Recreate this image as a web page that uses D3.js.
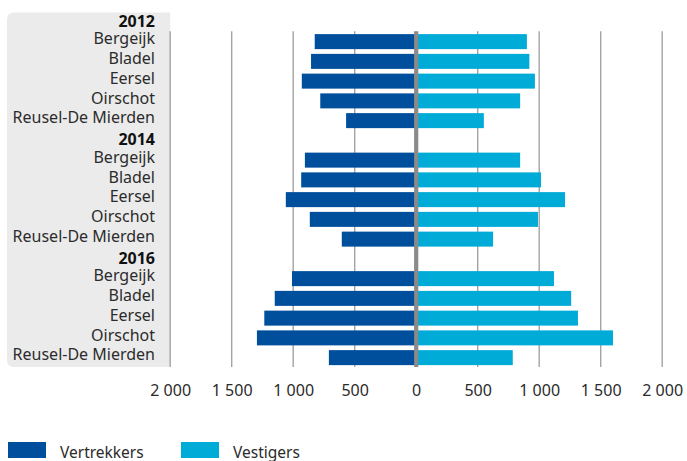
<!DOCTYPE html>
<html>
<head>
<meta charset="utf-8">
<script src="https://cdn.jsdelivr.net/npm/d3@7"></script>
<style>
  body { margin: 0; background: #fff; }
  text { font-family: "Noto Sans", sans-serif; fill: #2b2b2b; }
</style>
</head>
<body>
<svg id="chart" width="687" height="461"></svg>
<script>
// data
const years = ['2012', '2014', '2016'];
const gemeenten = ['Bergeijk', 'Bladel', 'Eersel', 'Oirschot', 'Reusel-De Mierden'];
const vertrekkers2012 = [825, 855, 930, 780, 570];
const vestigers2012 = [900, 920, 965, 845, 550];
const vertrekkers2014 = [905, 935, 1060, 865, 605];
const vestigers2014 = [845, 1015, 1210, 990, 625];
const vertrekkers2016 = [1010, 1150, 1235, 1295, 710];
const vestigers2016 = [1120, 1260, 1315, 1600, 785];
const tickValues = [-2000, -1500, -1000, -500, 0, 500, 1000, 1500, 2000];
const seriesNames = ['Vertrekkers', 'Vestigers'];

const vertrekkers = [vertrekkers2012, vertrekkers2014, vertrekkers2016];
const vestigers = [vestigers2012, vestigers2014, vestigers2016];

// rows: header per year, then the municipalities
const rows = [];
years.forEach(function(y, i) {
  rows.push({ key: y + '-h', label: y, header: true });
  gemeenten.forEach(function(g, j) {
    rows.push({ key: y + '-' + g, label: g, header: false, out: vertrekkers[i][j], inn: vestigers[i][j] });
  });
});

const colors = ['#004f9d', '#00abd8'];
const svg = d3.select('#chart');

const x = d3.scaleLinear().domain([-2000, 2000]).range([170.2, 662.2]);
const y = d3.scaleBand().domain(rows.map(d => d.key)).range([12, 367.5]).paddingInner(0.24).paddingOuter(0.12);

// grey label panel with rounded left corners
const px0 = 7, px1 = x(-2000), py0 = 12.5, py1 = 367, r = 7;
svg.append('path')
  .attr('d', 'M' + px1 + ',' + py0 + 'H' + (px0 + r) + 'Q' + px0 + ',' + py0 + ' ' + px0 + ',' + (py0 + r) +
    'V' + (py1 - r) + 'Q' + px0 + ',' + py1 + ' ' + (px0 + r) + ',' + py1 + 'H' + px1 + 'Z')
  .attr('fill', '#ebebeb');

const gridTop = y.step() + 12 - 0.5;
const gridBottom = 367;

// gridlines
svg.append('g').selectAll('line')
  .data(tickValues.filter(d => d !== 0))
  .enter().append('line')
  .attr('x1', d => x(d)).attr('x2', d => x(d))
  .attr('y1', gridTop).attr('y2', gridBottom)
  .attr('stroke', '#a3a3a3').attr('stroke-width', 1.4);

// bars
const dataRows = rows.filter(d => !d.header);
svg.append('g').selectAll('rect')
  .data(dataRows)
  .enter().append('rect')
  .attr('x', d => x(-d.out))
  .attr('width', d => x(0) - x(-d.out))
  .attr('y', d => y(d.key))
  .attr('height', y.bandwidth())
  .attr('fill', colors[0]);

svg.append('g').selectAll('rect')
  .data(dataRows)
  .enter().append('rect')
  .attr('x', x(0))
  .attr('width', d => x(d.inn) - x(0))
  .attr('y', d => y(d.key))
  .attr('height', y.bandwidth())
  .attr('fill', colors[1]);

// zero line
svg.append('line')
  .attr('x1', x(0)).attr('x2', x(0))
  .attr('y1', gridTop).attr('y2', gridBottom)
  .attr('stroke', '#8a8a8a').attr('stroke-width', 4.2);

// row labels
svg.append('g').selectAll('text')
  .data(rows)
  .enter().append('text')
  .attr('x', 155)
  .attr('y', d => y(d.key) + y.bandwidth() / 2 + (d.header ? 4.8 : 2.8))
  .attr('text-anchor', 'end')
  .style('font-size', '16px')
  .style('font-weight', d => d.header ? 700 : 400)
  .style('fill', d => d.header ? '#111' : '#2b2b2b')
  .text(d => d.label);

// x axis labels
const fmt = v => d3.format(',')(Math.abs(v)).replace(',', ' ');
const xAxis = d3.axisBottom(x).tickValues(tickValues).tickSize(0).tickFormat(fmt);
const ax = svg.append('g').attr('transform', 'translate(0,381.6)').call(xAxis);
ax.select('.domain').remove();
ax.selectAll('text')
  .style('font-family', '"Noto Sans", sans-serif')
  .style('font-size', '16px')
  .style('fill', '#2b2b2b');

// legend
const legend = svg.append('g').selectAll('g')
  .data(seriesNames)
  .enter().append('g')
  .attr('transform', (d, i) => 'translate(' + (8 + i * 173) + ',442)');
legend.append('rect')
  .attr('width', 38).attr('height', 16)
  .attr('fill', (d, i) => colors[i]);
legend.append('text')
  .attr('x', 52).attr('y', 15.5)
  .style('font-size', '15.5px')
  .text(d => d);
</script>
</body>
</html>
